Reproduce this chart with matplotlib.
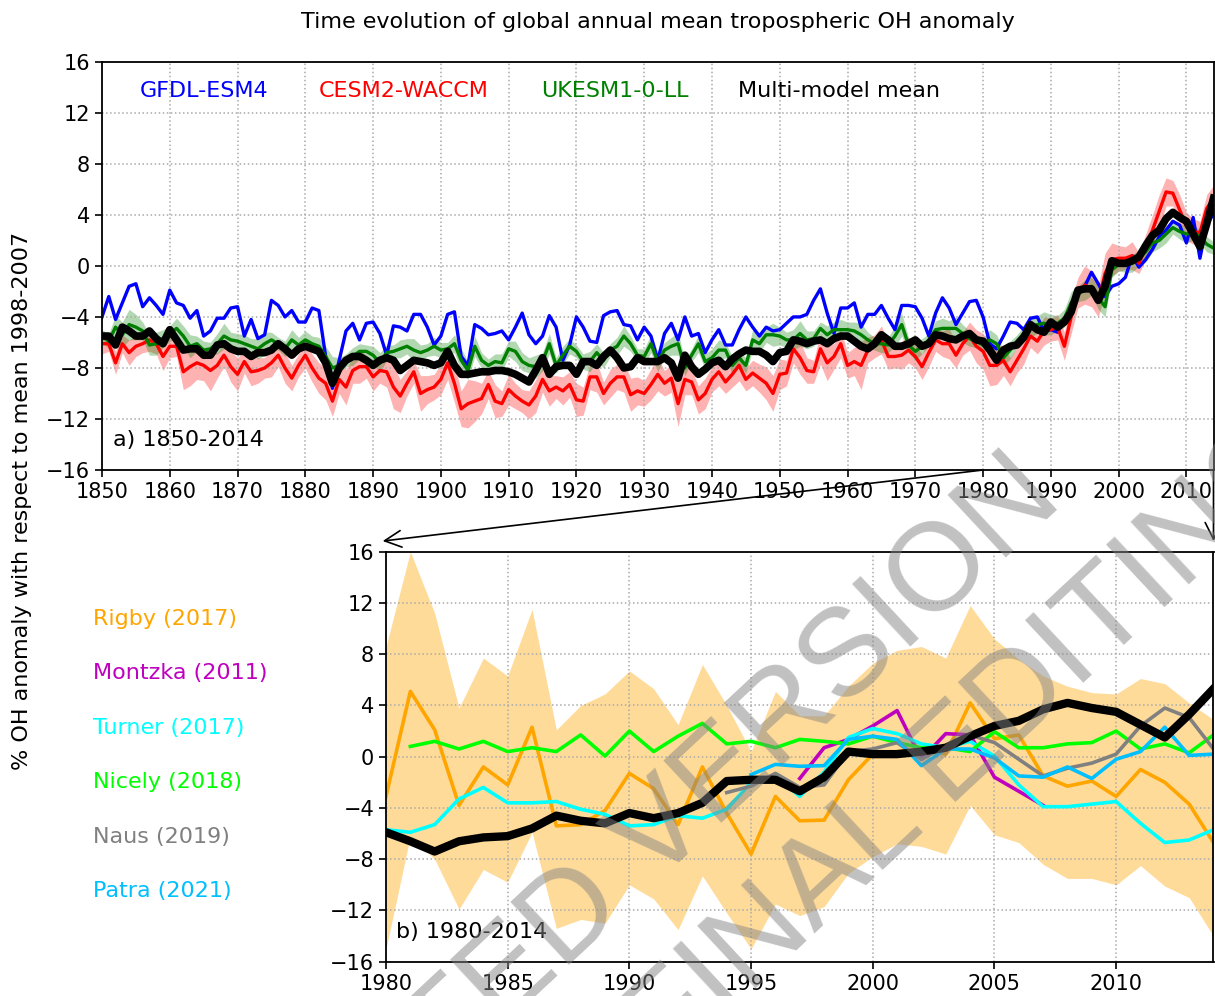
import numpy as np
import matplotlib.pyplot as plt
from matplotlib.patches import ConnectionPatch

# ---- panel a: 1850-2014 model runs ----
years_a = np.arange(1850, 2015)

gfdl = [-4.0, -2.4, -4.2, -2.9, -1.6, -1.4, -3.2, -2.5, -3.1, -3.8,
        -1.9, -2.9, -3.1, -4.1, -3.5, -5.5, -5.1, -4.1, -4.1, -3.3,
        -3.2, -5.5, -4.2, -5.7, -5.4, -2.7, -3.1, -4.0, -3.5, -4.4,
        -4.4, -3.3, -3.5, -7.1, -9.6, -7.4, -5.1, -4.5, -5.8, -4.5,
        -4.4, -5.3, -7.0, -4.7, -4.8, -5.1, -3.8, -3.8, -4.8, -6.2,
        -5.5, -3.8, -3.6, -7.1, -7.8, -4.6, -4.9, -5.4, -5.3, -5.1,
        -5.8, -4.8, -3.7, -5.4, -6.1, -5.5, -3.9, -4.8, -7.4, -6.2,
        -4.0, -4.8, -5.9, -6.0, -3.9, -3.6, -3.5, -4.6, -4.7, -5.8,
        -4.8, -5.5, -7.4, -5.3, -4.5, -5.8, -4.0, -5.5, -5.3, -6.8,
        -5.8, -5.0, -6.2, -6.2, -5.0, -4.0, -4.8, -5.5, -4.8, -5.1,
        -5.0, -4.5, -4.0, -4.0, -3.8, -2.7, -1.8, -3.7, -5.3, -3.3,
        -3.3, -2.9, -4.8, -3.8, -3.8, -3.1, -4.1, -5.0, -3.1, -3.1,
        -3.2, -4.1, -5.5, -3.7, -2.5, -3.3, -4.6, -3.7, -2.8, -2.7,
        -4.0, -6.1, -6.5, -5.5, -4.4, -4.5, -5.0, -4.1, -4.0, -5.1,
        -5.0, -5.2, -4.2, -3.2, -2.1, -1.6, -0.5, -1.4, -2.4, -1.6,
        -1.4, -0.9, 0.8, -0.1, 0.5, 1.3, 2.3, 2.8, 3.5, 3.2,
        1.8, 3.8, 0.6, 3.2, 4.1]

cesm = [-6.1, -6.1, -7.6, -6.1, -6.8, -6.3, -6.1, -5.8, -6.1, -7.1,
        -6.3, -6.3, -8.3, -7.9, -7.6, -7.8, -8.2, -7.8, -7.0, -7.9,
        -8.5, -7.5, -8.3, -8.2, -8.0, -7.6, -7.0, -8.0, -8.8, -7.8,
        -7.0, -8.0, -8.8, -9.2, -10.6, -8.9, -9.5, -8.2, -7.9, -7.9,
        -8.7, -8.2, -8.3, -9.5, -10.2, -9.2, -8.3, -10.0, -9.7, -9.5,
        -8.9, -7.6, -9.2, -11.2, -10.8, -10.6, -10.4, -9.3, -10.6, -10.8,
        -9.7, -10.2, -10.6, -10.9, -10.2, -8.9, -9.8, -9.5, -9.8, -9.3,
        -10.5, -10.6, -8.7, -8.7, -10.0, -9.2, -8.7, -8.7, -10.1, -9.8,
        -10.0, -9.3, -8.5, -9.2, -8.8, -10.8, -8.9, -9.1, -10.5, -10.0,
        -8.9, -8.3, -9.1, -8.5, -7.8, -8.9, -8.4, -8.8, -9.2, -10.0,
        -8.5, -8.4, -6.5, -7.2, -8.2, -8.3, -6.5, -7.6, -7.1, -6.1,
        -7.8, -7.5, -7.8, -6.6, -6.3, -5.8, -7.1, -7.1, -7.0, -6.6,
        -7.1, -7.9, -6.8, -5.8, -6.1, -6.1, -7.0, -6.1, -5.5, -6.3,
        -6.7, -7.8, -7.8, -7.4, -8.3, -7.4, -6.5, -5.5, -5.9, -5.1,
        -5.0, -4.8, -6.3, -4.0, -2.1, -1.5, -1.8, -2.8, -0.6, 0.5,
        0.6, 0.6, 0.8, 0.2, 1.5, 2.8, 4.3, 5.8, 5.7, 4.4,
        3.1, 2.7, 2.6, 4.5, 5.3]

cesm_spread = [0.8, 0.6, 0.9, 0.7, 1.0, 0.8, 0.7, 0.9, 0.8, 1.1,
               0.9, 0.8, 1.4, 1.5, 1.3, 1.2, 1.6, 1.0, 0.9, 1.2,
               1.3, 0.9, 1.1, 1.0, 0.8, 1.1, 0.9, 1.2, 1.0, 0.9,
               1.0, 1.1, 1.2, 1.3, 1.2, 1.1, 1.4, 1.0, 1.3, 0.9,
               1.1, 1.0, 1.2, 1.7, 1.3, 1.0, 0.9, 1.4, 1.1, 1.0,
               1.2, 1.3, 1.5, 1.4, 1.9, 1.6, 1.2, 1.1, 1.3, 1.0,
               1.2, 1.0, 0.9, 1.1, 1.3, 1.0, 1.2, 0.9, 1.1, 1.0,
               1.3, 1.1, 1.0, 1.2, 0.9, 1.1, 1.0, 1.2, 1.3, 1.1,
               1.0, 1.2, 1.3, 1.0, 1.1, 1.8, 1.2, 1.0, 1.1, 1.2,
               1.0, 1.1, 0.9, 1.0, 1.2, 0.9, 1.0, 1.1, 1.3, 1.4,
               1.2, 1.0, 1.1, 1.3, 1.0, 0.9, 1.2, 1.4, 1.0, 1.1,
               1.0, 1.1, 1.9, 1.0, 0.9, 1.1, 1.0, 0.9, 1.1, 1.0,
               0.9, 1.0, 1.1, 0.9, 1.0, 1.2, 1.0, 0.9, 1.1, 1.3,
               1.4, 1.6, 1.5, 1.2, 1.1, 1.0, 1.2, 0.9, 1.0, 1.1,
               0.9, 1.0, 1.1, 1.3, 1.2, 1.5, 1.4, 1.2, 1.6, 1.3,
               1.0, 0.9, 1.1, 0.8, 1.0, 1.2, 1.3, 1.1, 1.0, 1.2,
               1.1, 1.0, 0.9, 1.1, 1.0]

ukesm = [-5.5, -5.9, -4.8, -5.4, -4.6, -4.8, -5.1, -6.2, -6.1, -5.7,
         -5.3, -4.9, -5.5, -6.3, -6.1, -6.6, -6.5, -6.1, -5.5, -5.8,
         -5.9, -6.1, -6.3, -6.5, -6.1, -5.8, -6.1, -6.5, -5.8, -6.2,
         -5.8, -6.1, -6.3, -7.1, -8.0, -7.8, -7.4, -7.1, -6.7, -6.7,
         -7.0, -7.6, -6.8, -6.7, -6.5, -6.3, -6.6, -6.8, -6.6, -6.3,
         -6.6, -6.5, -6.1, -7.4, -8.2, -6.3, -7.4, -7.8, -7.5, -7.6,
         -6.5, -6.7, -7.5, -7.8, -7.9, -7.5, -6.1, -7.8, -7.0, -6.3,
         -6.7, -7.5, -7.5, -6.8, -7.4, -6.6, -6.3, -5.5, -6.1, -7.0,
         -7.1, -6.1, -7.5, -6.6, -6.3, -6.1, -8.0, -7.0, -6.1, -7.5,
         -7.2, -6.6, -6.6, -7.8, -7.2, -7.8, -5.8, -6.1, -5.4, -5.4,
         -5.5, -5.8, -5.8, -5.3, -5.8, -5.7, -4.9, -5.4, -5.0, -5.0,
         -5.0, -5.1, -5.4, -5.8, -6.1, -6.1, -6.2, -5.5, -4.6, -6.2,
         -6.7, -6.3, -5.8, -5.0, -4.9, -4.9, -4.9, -5.3, -5.7, -5.9,
         -6.2, -5.8, -6.1, -7.2, -6.6, -5.9, -5.3, -4.8, -4.6, -4.5,
         -4.6, -4.5, -4.1, -2.9, -2.2, -1.9, -1.6, -2.5, -3.2, -0.3,
         0.1, 0.1, 0.2, 0.6, 1.1, 1.8, 2.0, 2.5, 3.0, 2.7,
         2.5, 2.6, 2.3, 1.7, 1.4]

ukesm_spread = [0.5, 0.6, 0.9, 1.0, 1.2, 1.0, 0.7, 0.8, 0.9, 0.7,
                0.6, 0.8, 0.8, 0.9, 0.6, 0.7, 0.5, 0.8, 1.0, 0.6,
                0.6, 0.7, 0.6, 0.8, 0.9, 0.6, 0.5, 0.6, 0.8, 0.6,
                0.7, 0.6, 0.7, 0.8, 0.9, 0.6, 0.5, 0.7, 0.6, 0.5,
                0.7, 0.8, 0.6, 0.5, 0.7, 0.6, 0.9, 0.6, 0.5, 0.7,
                0.6, 0.5, 0.7, 0.9, 0.7, 0.8, 0.6, 0.5, 0.6, 0.7,
                0.6, 0.8, 0.7, 0.6, 0.9, 0.7, 0.8, 0.6, 0.7, 0.6,
                0.5, 0.6, 0.8, 0.7, 0.6, 0.5, 0.7, 0.8, 0.6, 0.5,
                0.6, 0.7, 0.8, 0.6, 0.7, 0.9, 0.6, 0.5, 0.7, 0.6,
                0.7, 0.8, 0.6, 0.7, 0.5, 0.6, 0.8, 0.7, 0.6, 0.9,
                0.7, 0.6, 0.8, 1.0, 0.7, 0.6, 0.5, 0.7, 0.6, 0.8,
                0.6, 0.7, 0.9, 0.6, 0.5, 0.7, 0.6, 0.8, 0.9, 0.6,
                0.7, 0.6, 0.5, 0.7, 0.8, 0.6, 0.9, 0.7, 0.6, 0.5,
                0.6, 0.8, 0.7, 0.6, 0.7, 0.5, 0.6, 0.8, 0.7, 0.9,
                0.8, 0.6, 0.7, 0.9, 0.6, 0.8, 0.7, 0.9, 0.8, 0.6,
                0.5, 0.6, 0.7, 0.6, 0.8, 0.7, 0.6, 0.7, 0.5, 0.6,
                0.7, 0.6, 0.5, 0.6, 0.5]

mmm = [-5.5, -5.5, -6.2, -4.8, -5.1, -5.5, -5.5, -5.1, -5.7, -6.1,
       -5.0, -5.8, -6.6, -6.5, -6.5, -7.0, -7.0, -6.2, -6.1, -6.5,
       -6.7, -6.7, -7.1, -6.8, -6.8, -6.6, -6.1, -6.5, -7.0, -6.5,
       -6.3, -6.5, -6.7, -7.6, -9.2, -8.0, -7.4, -7.1, -7.1, -7.4,
       -7.8, -7.4, -7.2, -7.4, -8.2, -7.8, -7.4, -7.5, -7.6, -7.8,
       -7.6, -6.7, -7.8, -8.5, -8.5, -8.4, -8.3, -8.3, -8.2, -8.2,
       -8.3, -8.5, -8.8, -9.1, -8.2, -7.2, -8.5, -7.9, -7.8, -7.8,
       -8.5, -7.5, -7.5, -7.8, -7.1, -6.6, -7.2, -8.0, -7.9, -7.2,
       -7.5, -7.5, -7.5, -7.2, -7.6, -8.8, -7.0, -7.9, -8.5, -8.1,
       -7.6, -7.4, -7.9, -7.3, -6.9, -6.6, -6.7, -6.7, -7.0, -7.5,
       -6.8, -6.7, -5.8, -5.9, -6.1, -5.9, -5.8, -6.1, -5.7, -5.5,
       -5.5, -5.9, -6.3, -6.5, -6.1, -5.4, -5.8, -6.3, -6.3, -6.1,
       -5.8, -6.3, -6.1, -5.4, -5.5, -5.7, -5.8, -5.5, -5.3, -5.8,
       -5.9, -6.6, -7.4, -6.6, -6.3, -6.2, -5.6, -4.6, -5.0, -5.2,
       -4.4, -4.8, -4.4, -3.6, -1.9, -1.8, -1.8, -2.7, -1.6, 0.4,
       0.2, 0.2, 0.4, 0.7, 1.6, 2.4, 2.8, 3.7, 4.2, 3.8,
       3.5, 2.5, 1.5, 3.3, 5.3]

# ---- panel b: 1980-2014 observation-based estimates ----
years_b = np.arange(1980, 2015)

rigby = [-3.1, 5.1, 2.1, -3.8, -0.8, -2.2, 2.3, -5.4, -5.3, -4.2,
         -1.3, -2.5, -5.3, -0.8, -4.4, -7.6, -3.1, -5.0, -4.95, -1.8,
         0.2, 0.4, 0.6, 0.2, 4.2, 1.4, 1.7, -1.5, -2.3, -1.9,
         -3.1, -1.0, -2.0, -3.7, -6.7]
rigby_hi = [8.6, 16.0, 11.2, 3.8, 7.7, 6.3, 11.5, 2.1, 4.0, 4.9,
            6.7, 5.3, 2.5, 7.2, 4.0, 0.4, 5.1, 3.2, 3.2, 5.5,
            7.3, 8.3, 8.6, 7.7, 11.8, 9.2, 7.6, 6.3, 5.5, 5.0,
            4.9, 6.1, 5.7, 4.2, 2.9]
rigby_lo = [-15.0, -6.2, -8.0, -11.9, -8.8, -9.8, -5.9, -13.4, -12.7, -13.0,
            -10.0, -11.1, -13.5, -9.3, -12.2, -15.0, -11.5, -12.4, -11.7, -9.1,
            -7.8, -6.8, -7.0, -7.6, -3.8, -6.1, -6.7, -8.4, -9.5, -9.5,
            -10.0, -8.5, -10.1, -11.0, -14.0]

montzka_years = np.arange(1997, 2008)
montzka = [-1.7, 0.7, 1.35, 2.4, 3.6, -0.2, 1.8, 1.7, -1.6, -2.7, -3.8]

turner = [-5.7, -5.9, -5.3, -3.3, -2.4, -3.6, -3.6, -3.5, -4.1, -4.5,
          -5.4, -5.3, -4.6, -4.8, -4.1, -2.0, -1.5, -3.1, -1.2, 1.5,
          2.2, 1.8, 1.0, 0.7, 1.2, 0.05, -2.2, -3.9, -3.9, -3.7,
          -3.5, -5.2, -6.7, -6.5, -5.7]

nicely_years = np.arange(1981, 2015)
nicely = [0.8, 1.2, 0.6, 1.2, 0.4, 0.7, 0.4, 1.7, 0.05, 2.0,
          0.4, 1.6, 2.6, 1.0, 1.2, 0.7, 1.35, 1.2, 1.0, 1.6,
          1.1, 0.7, 0.7, 0.4, 1.95, 0.7, 0.7, 1.0, 1.1, 2.0,
          0.6, 1.0, 0.3, 1.7]

naus_years = np.arange(1994, 2015)
naus = [-2.8, -2.3, -1.3, -2.4, -2.2, 0.4, 0.6, 1.1, -0.2, 0.8,
        1.7, 1.1, -0.2, -1.5, -0.9, -0.5, 0.2, 2.4, 3.8, 3.05, 0.6]

patra_years = np.arange(1995, 2015)
patra = [-1.4, -0.6, -0.75, -0.7, 1.35, 1.6, 1.35, -0.7, 0.6, 0.6,
         -0.1, -1.5, -1.6, -0.8, -1.7, -0.2, 0.4, 2.3, 0.1, 0.2]

obs_names = ['Rigby (2017)', 'Montzka (2011)', 'Turner (2017)',
             'Nicely (2018)', 'Naus (2019)', 'Patra (2021)']
obs_colors = ['orange', 'm', 'cyan', 'lime', 'gray', 'deepskyblue']

W, H = 1215, 996
fig = plt.figure(figsize=(W / 100, H / 100), dpi=100)

def style_axes(ax):
    ax.set_ylim(-16, 16)
    ax.set_yticks(np.arange(-16, 17, 4))
    ax.grid(True, linestyle=':', color='#aaaaaa', linewidth=1.1)
    ax.tick_params(labelsize=15, length=5, width=1.2)
    for s in ax.spines.values():
        s.set_linewidth(1.3)

ax1 = fig.add_axes([102 / W, 1 - 470 / H, (1213.5 - 102) / W, (470 - 61.8) / H])
ax1.fill_between(years_a, np.array(cesm) - cesm_spread, np.array(cesm) + cesm_spread,
                 color='red', alpha=0.3, lw=0)
ax1.fill_between(years_a, np.array(ukesm) - ukesm_spread, np.array(ukesm) + ukesm_spread,
                 color='green', alpha=0.3, lw=0)
ax1.plot(years_a, gfdl, color='blue', lw=2.4)
ax1.plot(years_a, cesm, color='red', lw=2.4)
ax1.plot(years_a, ukesm, color='green', lw=2.4)
ax1.plot(years_a, mmm, color='black', lw=5.5)
ax1.set_xlim(1850, 2014)
ax1.set_xticks(np.arange(1850, 2011, 10))
style_axes(ax1)

model_names = ['GFDL-ESM4', 'CESM2-WACCM', 'UKESM1-0-LL', 'Multi-model mean']
model_colors = ['blue', 'red', 'green', 'black']
label_x = [0.0342, 0.1952, 0.395, 0.5722]
for name, c, x in zip(model_names, model_colors, label_x):
    ax1.text(x, 0.928, name, color=c, fontsize=16, transform=ax1.transAxes,
             ha='left', va='center')
ax1.text(0.0099, 0.0735, 'a) 1850-2014', fontsize=16, transform=ax1.transAxes,
         ha='left', va='center')

ax2 = fig.add_axes([386 / W, 1 - 961.7 / H, (1213.5 - 386) / W, (961.7 - 551.7) / H])
ax2.fill_between(years_b, rigby_lo, rigby_hi, color='orange', alpha=0.4, lw=0)
ax2.plot(years_b, rigby, color=obs_colors[0], lw=2.6)
ax2.plot(montzka_years, montzka, color=obs_colors[1], lw=2.6)
ax2.plot(years_b, turner, color=obs_colors[2], lw=2.6)
ax2.plot(nicely_years, nicely, color=obs_colors[3], lw=2.6)
ax2.plot(naus_years, naus, color=obs_colors[4], lw=2.6)
ax2.plot(patra_years, patra, color=obs_colors[5], lw=2.6)
ax2.plot(years_b, mmm[-len(years_b):], color='black', lw=6)
ax2.set_xlim(1980, 2014)
ax2.set_xticks(np.arange(1980, 2011, 5))
style_axes(ax2)
ax2.text(0.012, 0.0724, 'b) 1980-2014', fontsize=16, transform=ax2.transAxes,
         ha='left', va='center')

for i, (name, c) in enumerate(zip(obs_names, obs_colors)):
    fig.text(93 / W, 1 - (619 + 54.4 * i) / H, name, color=c, fontsize=16,
             ha='left', va='center')

fig.text(658 / W, 1 - 22 / H,
         'Time evolution of global annual mean tropospheric OH anomaly',
         fontsize=16, ha='center', va='center')
fig.text(22 / W, 1 - 501 / H, '% OH anomaly with respect to mean 1998-2007',
         fontsize=16, rotation=90, ha='center', va='center')

# zoom arrows from panel a to panel b
for xa, xb in [(1980, -0.004), (2014, 1.0)]:
    con = ConnectionPatch(xyA=(xa, -16), coordsA=ax1.transData,
                          xyB=(xb, 1.026), coordsB=ax2.transAxes,
                          arrowstyle='->,head_length=0.6,head_width=0.3',
                          mutation_scale=20, lw=1.2, color='black')
    fig.add_artist(con)

# watermark, one text per line, anchored on its baseline centre (pixels)
for line, (px, py) in [('ACCEPTED VERSION', (598, 938.7)),
                       ('SUBJECT TO FINAL EDITING', (698.8, 1041.4))]:
    fig.text(px / W, 1 - py / H, line, family='Liberation Sans', fontsize=90,
             color='#848484', alpha=0.5, rotation=43, rotation_mode='anchor',
             ha='center', va='baseline', zorder=10)

fig.savefig('out.png', dpi=100)
